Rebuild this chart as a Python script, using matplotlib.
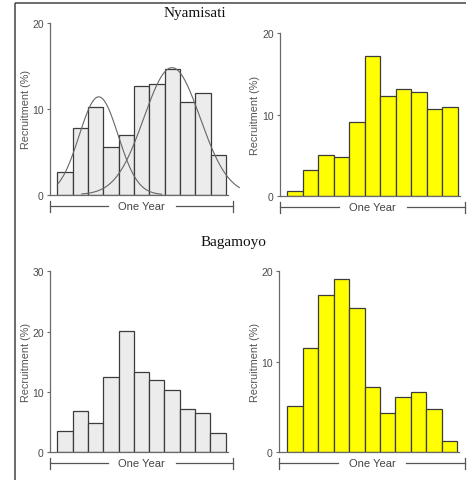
# Recruitment histograms, Nyamisati and Bagamoyo

import numpy as np
import matplotlib
matplotlib.use('Agg')
import matplotlib.pyplot as plt
from matplotlib import font_manager
from matplotlib.lines import Line2D

W, H = 467, 481

months = list(range(11))
nyamisati_gray = [2.7, 7.8, 10.2, 5.6, 7.0, 12.7, 12.9, 14.7, 10.8, 11.8, 4.6]
nyamisati_yellow = [0.6, 3.2, 5.1, 4.8, 9.1, 17.2, 12.3, 13.1, 12.8, 10.7, 10.9]
bagamoyo_gray = [3.6, 6.8, 4.9, 12.5, 20.1, 13.3, 12.0, 10.4, 7.2, 6.5, 3.2]
bagamoyo_yellow = [5.1, 11.5, 17.4, 19.2, 16.0, 7.2, 4.3, 6.1, 6.7, 4.8, 1.3]

# normal curves drawn over the first panel: (amplitude, mean, sd, start, end)
cohort_a = (11.4, 2.2, 1.27, -0.5, 6.3)
cohort_b = (14.8, 6.98, 1.83, 1.1, 11.37)

sans = 'Liberation Sans'
try:
    font_manager.findfont('Liberation Sans Narrow', fallback_to_default=False)
    sans = 'Liberation Sans Narrow'
except Exception:
    pass

fig = plt.figure(figsize=(W / 100, H / 100), dpi=100)


def fx(x):
    return x / W


def fy(y):
    return 1 - y / H


def panel(spine_x, bar0, last_edge, y0, ytop, ymax, vals, color, br_right, br_y, ytxt):
    bw = (last_edge - bar0) / 11
    ax = fig.add_axes([fx(spine_x), fy(y0), (last_edge + 2 - spine_x) / W, (y0 - ytop) / H])
    ax.bar(months, vals, width=1, color=color, edgecolor='#3c3c3c', linewidth=0.9)
    ax.set_xlim(-0.5 - (bar0 - spine_x) / bw, 10.5 + 2 / bw)
    ax.set_ylim(0, ymax)
    ax.set_yticks([0, 10, 20] if ymax == 20 else [0, 10, 20, 30])
    ax.set_xticks([])
    for s in ['top', 'right']:
        ax.spines[s].set_visible(False)
    for s in ['left', 'bottom']:
        ax.spines[s].set_color('#6a6a6a')
        ax.spines[s].set_linewidth(0.9)
    ax.tick_params(axis='y', direction='out', length=2.5, pad=2, width=0.8,
                   colors='#6a6a6a', labelcolor='#4a4a4a', labelsize=7.5)
    for lab in ax.get_yticklabels():
        lab.set_fontfamily(sans)
    ax.patch.set_alpha(0)

    # "One Year" bracket
    cx = (spine_x + br_right) / 2
    gap = 34
    kw = dict(color='#555555', linewidth=0.9)
    fig.add_artist(Line2D([fx(spine_x), fx(cx - gap)], [fy(br_y)] * 2, **kw))
    fig.add_artist(Line2D([fx(cx + gap), fx(br_right)], [fy(br_y)] * 2, **kw))
    for xe in (spine_x, br_right):
        fig.add_artist(Line2D([fx(xe)] * 2, [fy(br_y - 5.5), fy(br_y + 5.5)], **kw))
    fig.text(fx(cx), fy(br_y), 'One Year', ha='center', va='center',
             fontsize=8, color='#444444', family=sans)
    fig.text(fx(ytxt), (fy(y0) + fy(ytop)) / 2, 'Recruitment (%)', rotation=90,
             ha='center', va='center', fontsize=7.8, color='#555555', family=sans)
    return ax


ax1 = panel(50, 57.3, 226, 195.7, 24, 20, nyamisati_gray, '#ececec', 233, 207, 26)
ax2 = panel(280, 287.3, 457.7, 197.3, 34, 20, nyamisati_yellow, '#ffff00', 465, 208, 255)
ax3 = panel(50, 57.3, 225.7, 453.3, 272.3, 30, bagamoyo_gray, '#ececec', 233, 464, 26)
ax4 = panel(279, 287.3, 457.3, 453.3, 272.3, 20, bagamoyo_yellow, '#ffff00', 465, 464, 255)

for amp, mu, sd, x0, x1 in (cohort_a, cohort_b):
    xs = np.linspace(x0, x1, 200)
    ax1.plot(xs, amp * np.exp(-(xs - mu) ** 2 / (2 * sd ** 2)),
             color='#666666', linewidth=0.8, clip_on=False)

fig.text(fx(195), fy(13), 'Nyamisati', ha='center', va='center',
         fontsize=11, family='Liberation Serif', color='#111111')
fig.text(fx(233), fy(243), 'Bagamoyo', ha='center', va='center',
         fontsize=11, family='Liberation Serif', color='#111111')

# outer frame (left and top edges)
fig.add_artist(Line2D([fx(14.5), fx(14.5)], [fy(3.5), fy(H)], color='#444444',
                      linewidth=1.1, solid_capstyle='butt'))
fig.add_artist(Line2D([fx(14.5), fx(W - 1)], [fy(3.5), fy(3.5)], color='#444444',
                      linewidth=1.1, solid_capstyle='butt'))

fig.savefig('out.png', dpi=100)
